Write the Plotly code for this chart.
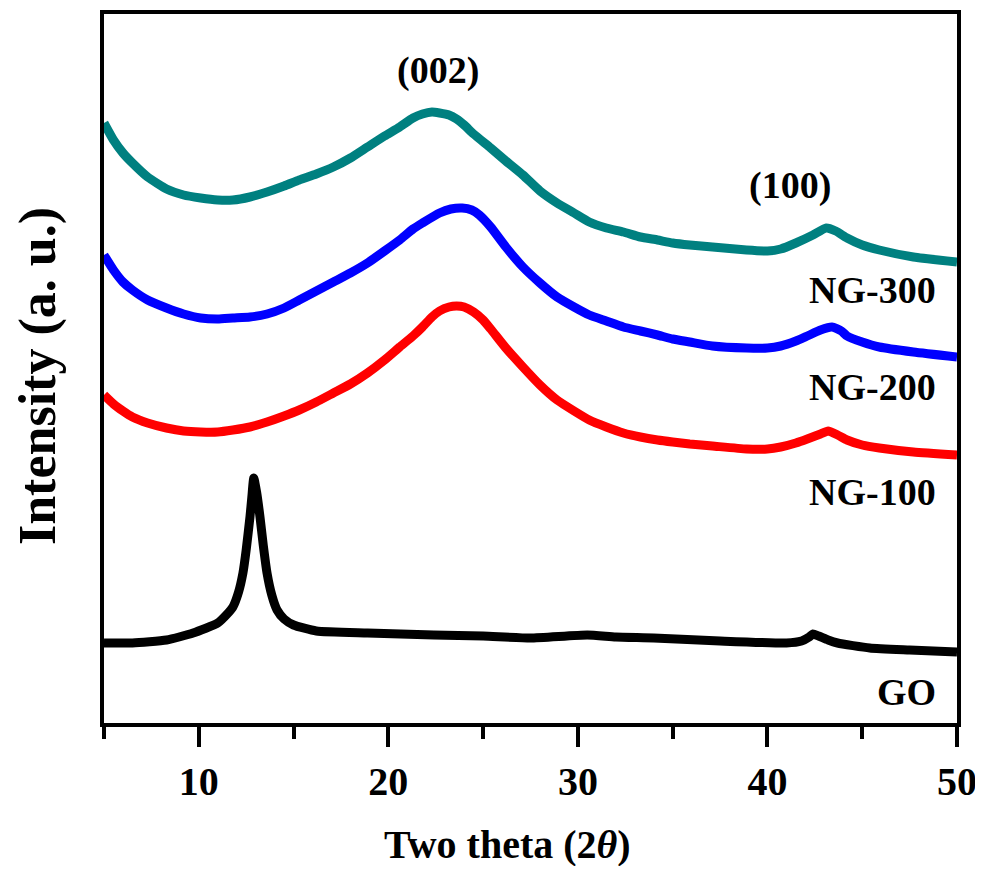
import plotly.graph_objects as go

# 2-theta positions (degrees) and intensities (a. u.)
x_ng300 = [5.0, 5.5, 6.0, 6.5, 7.3, 8.3, 9.2, 10.1, 11.0, 11.8, 12.7, 13.6, 14.5, 15.3, 16.2, 17.1, 18.0, 18.9,
           19.8, 20.6, 21.3, 21.8, 22.3, 22.7, 23.2, 23.6, 24.0, 24.5, 25.4, 26.2, 27.1, 28.0, 28.9, 29.8, 30.6,
           31.5, 32.4, 33.3, 34.2, 35.0, 35.9, 37.1, 38.9, 40.0, 40.7, 41.5, 42.4, 43.1, 43.6, 44.2, 45.0, 45.9,
           47.7, 50.0]
y_ng300 = [600, 583, 570, 560, 546, 534, 528, 525, 523, 523, 526, 531, 537, 543, 549, 556, 565, 576,
           587, 596, 605, 609, 611, 610, 608, 604, 598, 589, 575, 562, 548, 532, 520, 510, 501,
           495, 491, 486, 483, 480, 478, 476, 473, 472, 474, 480, 488, 495, 492, 485, 478, 473,
           466, 461]

x_ng200 = [5.0, 5.5, 6.0, 6.5, 7.3, 8.3, 9.2, 10.1, 11.0, 11.8, 12.7, 13.6, 14.5, 15.3, 16.2, 17.1, 18.0, 18.9,
           19.8, 20.6, 21.3, 21.8, 22.7, 23.3, 23.9, 24.4, 24.8, 25.4, 26.2, 27.1, 28.0, 28.9, 29.8, 30.6,
           31.5, 32.4, 33.3, 34.2, 35.0, 35.9, 37.1, 38.9, 40.0, 40.7, 41.5, 42.1, 42.8, 43.4, 43.9, 44.2,
           45.0, 45.9, 47.7, 50.0]
y_ng200 = [468, 453, 441, 433, 423, 415, 409, 405, 404, 405, 406, 409, 415, 423, 432, 441, 450, 460,
           472, 483, 494, 500, 510, 514, 515, 513, 508, 496, 476, 456, 440, 426, 416, 408,
           402, 396, 392, 388, 384, 381, 377, 375, 375, 377, 382, 387, 393, 396, 392, 387,
           381, 376, 371, 366]

x_ng100 = [5.0, 5.5, 6.0, 6.5, 7.3, 8.3, 9.2, 10.1, 11.0, 11.8, 12.7, 13.6, 14.5, 15.3, 16.2, 17.1, 18.0, 18.9,
           19.8, 20.6, 21.3, 21.8, 22.3, 22.7, 23.2, 23.6, 24.0, 24.5, 25.0, 25.4, 26.2, 27.1, 28.0, 28.9,
           29.8, 30.6, 31.5, 32.4, 33.3, 34.2, 35.0, 35.9, 37.1, 38.9, 40.0, 40.7, 41.5, 42.1, 42.8, 43.2,
           43.7, 44.2, 45.0, 45.9, 47.7, 50.0]
y_ng100 = [328, 319, 312, 306, 300, 295, 292, 291, 291, 293, 296, 301, 307, 313, 321, 330, 339, 350,
           363, 376, 387, 396, 406, 412, 416, 417, 416, 411, 403, 394, 375, 356, 338, 323,
           312, 303, 296, 290, 286, 283, 281, 279, 277, 274, 274, 276, 280, 284, 289, 292,
           288, 283, 278, 275, 271, 268]

x_go = [5.0, 6.5, 8.3, 9.7, 11.0, 11.5, 11.8, 12.1, 12.33, 12.5, 12.7, 12.8, 12.9, 13.05, 13.23, 13.4, 13.6,
        13.85, 14.13, 14.5, 15.0, 16.2, 18.9, 22.4, 25.0, 27.5, 30.5, 32.0, 34.0, 37.5, 41.0, 41.8, 42.2,
        42.4, 42.7, 43.2, 43.7, 45.4, 47.5, 50.0]
y_go = [80, 80, 83, 90, 100, 109, 116, 131, 150, 173, 206, 226, 245, 231, 206, 178, 150,
        128, 113, 104, 98, 92, 90, 88, 87, 85, 88, 86, 85, 82, 80, 82, 86,
        89, 87, 83, 80, 75, 73, 71]

x_ticks = [10, 20, 30, 40, 50]

FONT = "Liberation Serif"

fig = go.Figure()
series = [
    (x_ng300, y_ng300, "#008080", "NG-300"),
    (x_ng200, y_ng200, "#0000FF", "NG-200"),
    (x_ng100, y_ng100, "#FF0000", "NG-100"),
    (x_go, y_go, "#000000", "GO"),
]
for xs, ys, col, name in series:
    fig.add_trace(go.Scatter(x=xs, y=ys, mode="lines", name=name,
                             line=dict(color=col, width=9, shape="spline", smoothing=0.5),
                             showlegend=False, cliponaxis=True))

labels = [
    (22.6, 653, "(002)", "center"),
    (41.2, 538, "(100)", "center"),
    (49.0, 433, "NG-300", "right"),
    (49.0, 336, "NG-200", "right"),
    (49.0, 231, "NG-100", "right"),
    (49.0, 31, "GO", "right"),
]
for lx, ly, txt, anc in labels:
    fig.add_annotation(x=lx, y=ly, text="<b>%s</b>" % txt, showarrow=False,
                       xanchor=anc, yanchor="middle",
                       font=dict(family=FONT, size=38, color="black"))

# x-axis title (placed slightly left of the plot centre, as in the reference)
fig.add_annotation(xref="paper", yref="paper", x=0.4736, y=-0.172,
                   text="<b>Two theta (2</b><b><i>θ</i></b><b>)</b>", showarrow=False,
                   xanchor="center", yanchor="middle",
                   font=dict(family=FONT, size=40, color="black"))

# y-axis title
fig.add_annotation(xref="paper", yref="paper", x=-0.078, y=0.49,
                   text="<b>Intensity (a. u.)</b>", showarrow=False, textangle=-90,
                   xanchor="center", yanchor="middle",
                   font=dict(family=FONT, size=52, color="black"))

# page body has an 8 px default margin, so the figure is offset to compensate
fig.update_layout(
    width=975, height=858,
    margin=dict(l=96, r=26, t=6, b=143),
    plot_bgcolor="white", paper_bgcolor="white",
    xaxis=dict(range=[5, 50], tickvals=x_ticks, ticktext=["<b>%d</b>" % t for t in x_ticks],
               ticks="outside", ticklen=20, tickwidth=4, tickcolor="black",
               minor=dict(dtick=5, tick0=5, ticks="outside", ticklen=12, tickwidth=4, tickcolor="black"),
               showline=True, linewidth=4, linecolor="black", mirror=True,
               showgrid=False, zeroline=False, automargin=False, ticklabeloverflow="allow",
               tickfont=dict(family=FONT, size=40, color="black")),
    yaxis=dict(range=[0, 709], showticklabels=False, ticks="",
               showline=True, linewidth=4, linecolor="black", mirror=True,
               showgrid=False, zeroline=False, automargin=False),
)

fig.write_html("out.html")
